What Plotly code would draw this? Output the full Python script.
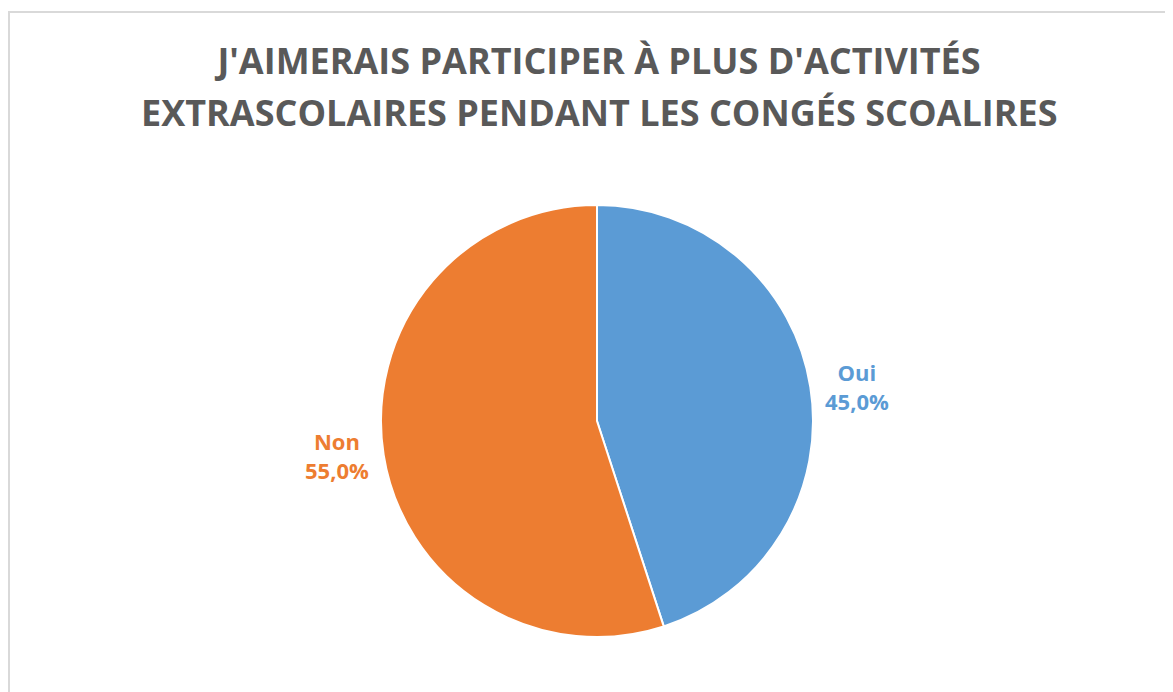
import plotly.graph_objects as go

# Réponses à la question
reponses = ["Oui", "Non"]
parts = [45.0, 55.0]
couleurs = ["#5B9BD5", "#ED7D31"]

titre_l1 = "J'AIMERAIS PARTICIPER À PLUS D'ACTIVITÉS"
titre_l2 = "EXTRASCOLAIRES PENDANT LES CONGÉS SCOALIRES"

W, H = 1173, 692
off = 8  # marge par défaut de la page

fig = go.Figure()

fig.add_trace(go.Pie(
    labels=reponses,
    values=parts,
    sort=False,
    direction="clockwise",
    rotation=0,
    marker=dict(colors=couleurs, line=dict(color="white", width=2)),
    textposition="outside",
    texttemplate="<b>%{label}</b><br><b>%{percent:.1%}</b>",
    textfont=dict(family="Open Sans", size=22, color=couleurs),
    showlegend=False,
    hoverinfo="label+percent",
    domain=dict(x=[(381 - off) / W, (813 - off) / W],
                y=[1 - (637 - off) / H, 1 - (205 - off) / H]),
))

# cadre gris autour du graphique
fig.add_shape(type="rect", xref="paper", yref="paper",
              x0=(9 - off) / W, x1=1.02, y0=-0.02, y1=1 - (12 - off) / H,
              line=dict(color="#D9D9D9", width=2), layer="below")

police_titre = dict(family="Open Sans", size=36, color="#595959")

# titre sur deux lignes (la 2e ligne en annotation pour régler l'interligne)
fig.add_annotation(text="<b>" + titre_l2 + "</b>", xref="paper", yref="paper",
                   x=(599 - off) / W, y=1 - (112 - off) / H,
                   xanchor="center", yanchor="middle", showarrow=False,
                   font=police_titre)

fig.update_layout(
    width=W, height=H,
    margin=dict(l=0, r=0, t=0, b=0),
    paper_bgcolor="white",
    separators=", ",
    title=dict(text="<b>" + titre_l1 + "</b>", x=(599 - off) / W, xanchor="center",
               y=1 - (61 - off) / H, yanchor="middle",
               font=police_titre),
)

fig.write_html("out.html")
